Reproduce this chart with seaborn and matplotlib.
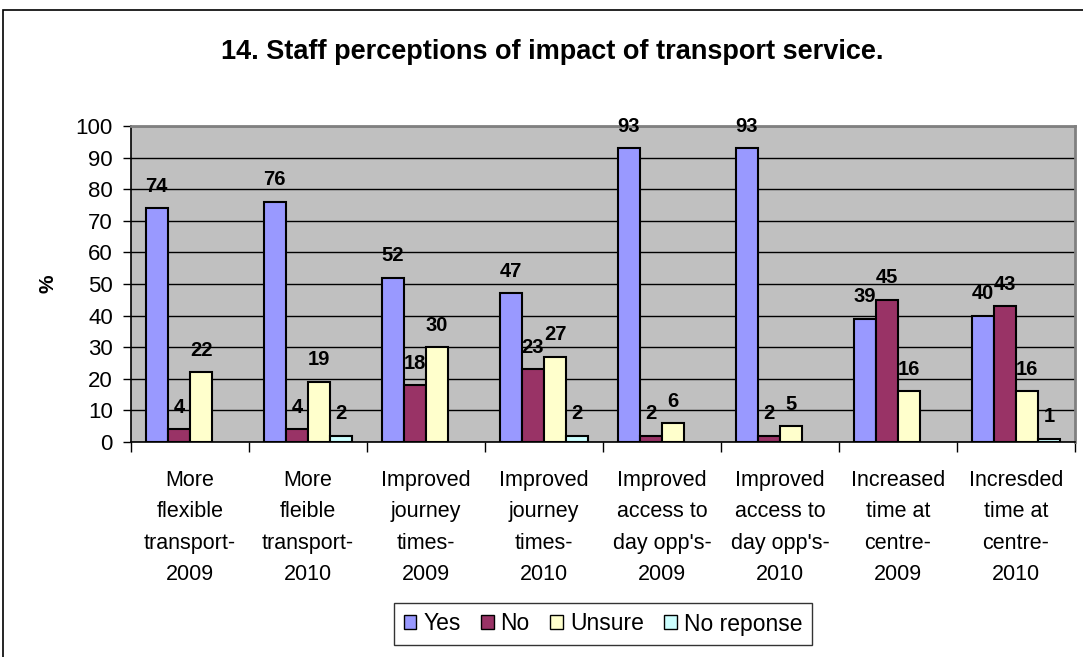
import pandas as pd
import seaborn as sns
import matplotlib.pyplot as plt
import numpy as np
from matplotlib.patches import Rectangle

# Data
categories = ["More\nflexible\ntransport-\n2009", "More\nfleible\ntransport-\n2010",
              "Improved\njourney\ntimes-\n2009", "Improved\njourney\ntimes-\n2010",
              "Improved\naccess to\nday opp's-\n2009", "Improved\naccess to\nday opp's-\n2010",
              "Increased\ntime at\ncentre-\n2009", "Incresded\ntime at\ncentre-\n2010"]
series = ["Yes", "No", "Unsure", "No reponse"]
yes = [74, 76, 52, 47, 93, 93, 39, 40]
no = [4, 4, 18, 23, 2, 2, 45, 43]
unsure = [22, 19, 30, 27, 6, 5, 16, 16]
no_response = [np.nan, 2, np.nan, 2, np.nan, np.nan, np.nan, 1]
colors = ["#9999FF", "#993366", "#FFFFCC", "#CCFFFF"]

df = pd.DataFrame({"category": categories, "Yes": yes, "No": no,
                   "Unsure": unsure, "No reponse": no_response})
df_long = df.melt(id_vars="category", value_vars=series, var_name="answer", value_name="pct")

sns.set_style("white")
plt.rcParams['font.family'] = ['Liberation Sans', 'DejaVu Sans']
plt.rcParams.update({"text.color": "black", "axes.labelcolor": "black",
                     "xtick.color": "black", "ytick.color": "black"})

fig = plt.figure(figsize=(10.83, 6.57), dpi=100)
ax = fig.add_axes([131/1083, 1-442/657, (1075-131)/1083, (442-126)/657])

sns.barplot(data=df_long, x="category", y="pct", hue="answer", hue_order=series,
            order=categories, palette=colors, width=0.75, errorbar=None,
            edgecolor="black", linewidth=1.5, saturation=1, ax=ax, zorder=3)

ax.set_facecolor("#C0C0C0")
ax.set_ylim(0, 100)
ax.set_xlim(-0.5, len(categories)-0.5)
ax.set_yticks(range(0, 101, 10))
ax.yaxis.grid(True, color="black", linewidth=1)
ax.set_axisbelow(True)
for b in ax.patches:
    b.set_zorder(3)

# value labels
for cont in ax.containers:
    ax.bar_label(cont, fmt="{:.0f}", padding=9, fontsize=14.5, fontweight="bold")

ax.set_xlabel("")
ax.set_ylabel("%", fontsize=15, fontweight="bold", labelpad=13)
ax.tick_params(axis="y", labelsize=16, length=6, direction="out", left=True, width=1, pad=7)
ax.set_xticks(np.arange(-0.5, len(categories), 1), minor=True)
ax.tick_params(axis="x", which="minor", length=7, direction="out", bottom=True, width=1)
ax.tick_params(axis="x", which="major", length=0, labelsize=15.5, pad=20)
for lbl in ax.get_xticklabels():
    lbl.set_linespacing(1.65)

for s in ["left", "bottom"]:
    ax.spines[s].set_color("black")
    ax.spines[s].set_linewidth(1.2)
for s in ["top", "right"]:
    ax.spines[s].set_color("#808080")
    ax.spines[s].set_linewidth(2)

ax.legend_.remove()
handles = [Rectangle((0, 0), 1, 1, facecolor=c, edgecolor="black", linewidth=1) for c in colors]
fig.legend(handles, series, loc="center", bbox_to_anchor=(603/1083, 1-624/657), ncol=4,
           fontsize=16.5, frameon=True, fancybox=False, edgecolor="black",
           handlelength=0.55, handleheight=0.55, handletextpad=0.3, columnspacing=0.9,
           borderpad=0.4)

fig.text(552/1083, 1-52/657, "14. Staff perceptions of impact of transport service.",
         ha="center", va="center", fontsize=19.5, fontweight="bold")

# outer chart frame (extends beyond the image on the right/bottom)
fig.patches.append(Rectangle((3/1083, -0.1), 1.2, 1-10/657+0.1, transform=fig.transFigure,
                             fill=False, edgecolor="black", linewidth=1.2))

fig.savefig("out.png", dpi=100)
